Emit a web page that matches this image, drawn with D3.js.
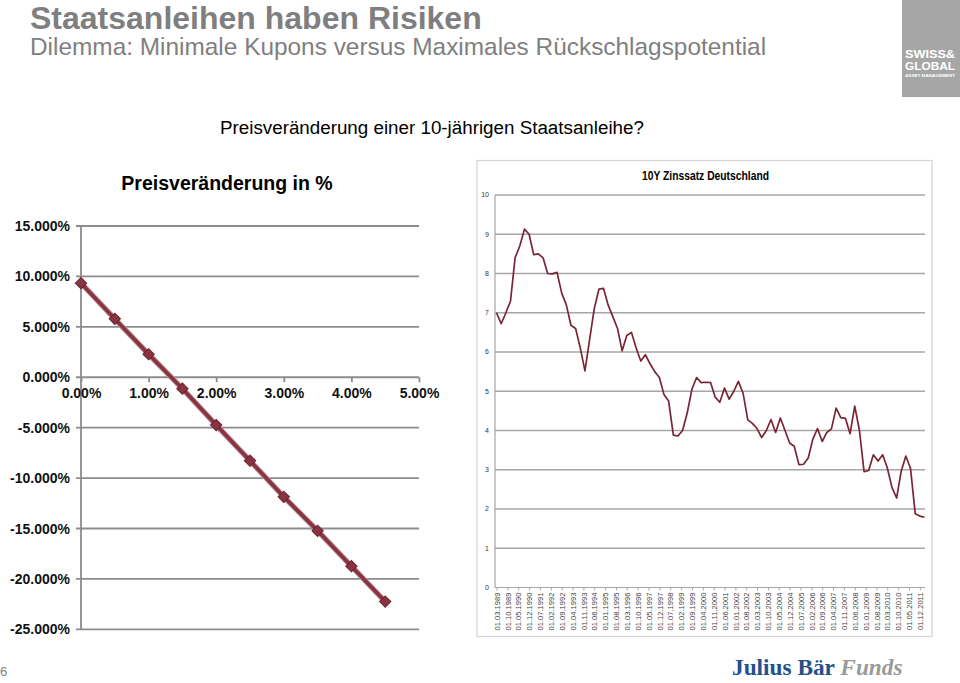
<!DOCTYPE html>
<html><head><meta charset="utf-8">
<script src="https://cdn.jsdelivr.net/npm/d3@7"></script>
<style>
html,body{margin:0;padding:0;background:#fff;}
svg{display:block;}
</style></head>
<body>
<svg id="c" width="960" height="683"></svg>
<script>
// ---------- Left chart data ----------
const yieldLevels = [0, 0.5, 1, 1.5, 2, 2.5, 3, 3.5, 4, 4.5];          // x: Zinsniveau in %
const priceChange = [9.33, 5.79, 2.28, -1.13, -4.74, -8.28, -11.86, -15.23, -18.74, -22.25]; // y: %
const leftYTicks = [15, 10, 5, 0, -5, -10, -15, -20, -25];
const leftXTicks = [0, 1, 2, 3, 4, 5];

// ---------- Right chart data (quarterly from 01.03.1989) ----------
const rateStart = "01.03.1989";
const rate10y = [
  7.00, 6.72, 7.00, 7.30, 8.40, 8.70, 9.13, 9.00, 8.48, 8.50,
  8.40, 8.00, 7.99, 8.03, 7.50, 7.20, 6.68, 6.60, 6.10, 5.52,
  6.30, 7.10, 7.60, 7.62, 7.20, 6.90, 6.60, 6.03, 6.42, 6.50,
  6.10, 5.77, 5.93, 5.70, 5.50, 5.35, 4.92, 4.75, 3.88, 3.86,
  4.00, 4.45, 5.05, 5.35, 5.22, 5.23, 5.22, 4.85, 4.72, 5.08,
  4.80, 5.00, 5.25, 4.95, 4.27, 4.18, 4.05, 3.82, 4.00, 4.28,
  3.95, 4.32, 4.00, 3.68, 3.60, 3.13, 3.14, 3.30, 3.78, 4.05,
  3.72, 3.95, 4.04, 4.57, 4.33, 4.31, 3.92, 4.62, 4.00, 2.95,
  2.98, 3.38, 3.22, 3.38, 3.05, 2.55, 2.28, 2.97, 3.35, 3.03,
  1.88, 1.82, 1.79
];
const dateLabels = [
  "01.03.1989","01.10.1989","01.05.1990","01.12.1990","01.07.1991","01.02.1992","01.09.1992","01.04.1993",
  "01.11.1993","01.06.1994","01.01.1995","01.08.1995","01.03.1996","01.10.1996","01.05.1997","01.12.1997",
  "01.07.1998","01.02.1999","01.09.1999","01.04.2000","01.11.2000","01.06.2001","01.01.2002","01.08.2002",
  "01.03.2003","01.10.2003","01.05.2004","01.12.2004","01.07.2005","01.02.2006","01.09.2006","01.04.2007",
  "01.11.2007","01.06.2008","01.01.2009","01.08.2009","01.03.2010","01.10.2010","01.05.2011","01.12.2011"
];
const rightYTicks = [0,1,2,3,4,5,6,7,8,9,10];

const svg = d3.select("#c");
const parse = d3.utcParse("%d.%m.%Y");

// ---------- Header ----------
svg.append("text").attr("x", 30).attr("y", 29)
  .attr("font-family", "Liberation Sans, Arial, sans-serif").attr("font-weight", "bold")
  .attr("font-size", 32).attr("fill", "#7f7f7f").text("Staatsanleihen haben Risiken");
svg.append("text").attr("x", 30).attr("y", 55)
  .attr("font-family", "Liberation Sans, Arial, sans-serif")
  .attr("font-size", 24.4).attr("fill", "#7f7f7f")
  .text("Dilemma: Minimale Kupons versus Maximales Rückschlagspotential");
svg.append("text").attr("x", 220).attr("y", 134)
  .attr("font-family", "Liberation Sans, Arial, sans-serif")
  .attr("font-size", 18.8).attr("fill", "#000")
  .text("Preisveränderung einer 10-jährigen Staatsanleihe?");

// Logo box
svg.append("rect").attr("x", 902).attr("y", 0).attr("width", 58).attr("height", 97).attr("fill", "#a6a6a6");
const lg = svg.append("g").attr("font-family", "Liberation Sans, Arial, sans-serif")
  .attr("font-weight", "bold").attr("fill", "#fff");
lg.append("text").attr("x", 905).attr("y", 58).attr("font-size", 11).attr("textLength", 50).attr("lengthAdjust", "spacingAndGlyphs").text("SWISS&");
lg.append("text").attr("x", 905).attr("y", 70).attr("font-size", 11).attr("textLength", 50).attr("lengthAdjust", "spacingAndGlyphs").text("GLOBAL");
lg.append("text").attr("x", 905).attr("y", 77).attr("font-size", 4).attr("textLength", 50).attr("lengthAdjust", "spacingAndGlyphs").text("ASSET MANAGEMENT");

// Footer
svg.append("text").attr("x", 0).attr("y", 676).attr("font-family", "Liberation Sans, Arial, sans-serif")
  .attr("font-size", 13).attr("fill", "#7f7f7f").text("6");
const jb = svg.append("text").attr("x", 732).attr("y", 675)
  .attr("font-family", "Liberation Serif, Times New Roman, serif").attr("font-weight", "bold").attr("font-size", 23.3);
jb.append("tspan").attr("fill", "#25508c").text("Julius Bär ");
jb.append("tspan").attr("fill", "#9a9a9a").attr("font-style", "italic").text("Funds");

// ---------- Left chart ----------
const L = svg.append("g");
const lx = d3.scaleLinear().domain([0, 5]).range([81, 419]);
const ly = d3.scaleLinear().domain([-25, 15]).range([629.3, 226]);
const lfont = "Liberation Sans, Arial, sans-serif";
const pct3 = d => d3.format(".3f")(d).replace("\u2212", "-") + "%";

L.append("text").attr("x", 227).attr("y", 190).attr("text-anchor", "middle")
  .attr("font-family", lfont).attr("font-weight", "bold").attr("font-size", 19.5).attr("fill", "#000")
  .text("Preisveränderung in %");

// gridlines
L.selectAll("line.g").data(leftYTicks.filter(d => d !== 0)).join("line")
  .attr("x1", 76).attr("x2", 419).attr("y1", d => ly(d)).attr("y2", d => ly(d))
  .attr("stroke", "#8c8c8c").attr("stroke-width", 1.8);
// y axis labels
L.selectAll("text.yl").data(leftYTicks).join("text")
  .attr("x", 70).attr("y", d => ly(d)).attr("dy", "0.36em").attr("text-anchor", "end")
  .attr("font-family", lfont).attr("font-weight", "bold").attr("font-size", 14).attr("fill", "#111")
  .text(pct3);
// y axis line
L.append("line").attr("x1", 81).attr("x2", 81).attr("y1", ly(15)).attr("y2", ly(-25))
  .attr("stroke", "#8c8c8c").attr("stroke-width", 1.8);
// x axis at 0
const xAxisL = L.append("g").attr("transform", `translate(0,${ly(0)})`)
  .call(d3.axisBottom(lx).tickValues(leftXTicks).tickSize(5).tickSizeOuter(0).tickFormat(d => d3.format(".2f")(d) + "%"));
xAxisL.select(".domain").attr("stroke", "#8c8c8c").attr("stroke-width", 1.8).attr("d", `M76,0H419`);
xAxisL.selectAll(".tick line").attr("stroke", "#8c8c8c").attr("stroke-width", 1.8);
xAxisL.selectAll(".tick text").attr("font-family", lfont).attr("font-weight", "bold").attr("font-size", 14)
  .attr("fill", "#111").attr("y", 11).attr("dy", "0.71em");

// series
const lpts = yieldLevels.map((x, i) => [x, priceChange[i]]);
const lline = d3.line().x(d => lx(d[0])).y(d => ly(d[1]));
L.append("path").attr("d", lline(lpts)).attr("fill", "none").attr("stroke", "#b58a90").attr("stroke-width", 5.5);
L.append("path").attr("d", lline(lpts)).attr("fill", "none").attr("stroke", "#893241").attr("stroke-width", 3.5);
L.selectAll("path.m").data(lpts).join("path")
  .attr("transform", d => `translate(${lx(d[0])},${ly(d[1])}) rotate(45)`)
  .attr("d", d3.symbol(d3.symbolSquare, 64)())
  .attr("fill", "#8a3443").attr("stroke", "#6e2230").attr("stroke-width", 1);

// ---------- Right chart ----------
const R = svg.append("g");
R.append("rect").attr("x", 477).attr("y", 160.5).attr("width", 455).attr("height", 476)
  .attr("fill", "#fff").attr("stroke", "#d4d4d4").attr("stroke-width", 1.2);
R.append("text").attr("x", 642).attr("y", 180)
  .attr("font-family", "Liberation Sans, Arial, sans-serif")
  .attr("font-weight", "bold").attr("font-size", 12.5).attr("fill", "#000")
  .attr("textLength", 127).attr("lengthAdjust", "spacingAndGlyphs").text("10Y Zinssatz Deutschland");

const t0 = parse(rateStart);
const rdates = rate10y.map((_, i) => d3.utcMonth.offset(t0, 3 * i));
const rx = d3.scaleUtc().domain([t0, rdates[rdates.length - 1]]).range([496.5, 924.5]);
const ry = d3.scaleLinear().domain([0, 10]).range([587.5, 195]);

R.selectAll("line.g").data(rightYTicks.filter(d => d > 0)).join("line")
  .attr("x1", 495).attr("x2", 925).attr("y1", d => ry(d)).attr("y2", d => ry(d))
  .attr("stroke", "#a6a6a6").attr("stroke-width", 1.3);
R.selectAll("text.yl").data(rightYTicks).join("text")
  .attr("x", 489).attr("y", d => ry(d)).attr("dy", "0.35em").attr("text-anchor", "end")
  .attr("font-family", "Liberation Sans, Arial, sans-serif").attr("font-size", 7).attr("fill", "#333")
  .text(d => d);
R.append("line").attr("x1", 495).attr("x2", 495).attr("y1", ry(10)).attr("y2", ry(0))
  .attr("stroke", "#a6a6a6").attr("stroke-width", 1.2);

const xAxisR = R.append("g").attr("transform", `translate(0,${ry(0)})`)
  .call(d3.axisBottom(rx).tickValues(dateLabels.map(parse)).tickSize(3).tickSizeOuter(0)
    .tickFormat(d => d3.utcFormat("%d.%m.%Y")(d)));
xAxisR.select(".domain").attr("stroke", "#a6a6a6").attr("stroke-width", 1.2).attr("d", "M495,0H925");
xAxisR.selectAll(".tick line").attr("stroke", "#a6a6a6");
xAxisR.selectAll(".tick text")
  .attr("font-family", "Liberation Sans, Arial, sans-serif").attr("font-size", 7.6).attr("fill", "#444")
  .attr("text-anchor", "end").attr("x", -5).attr("y", 0).attr("dy", "0.35em")
  .attr("transform", "rotate(-90)");

const rline = d3.line().x((d, i) => rx(rdates[i])).y(d => ry(d));
R.append("path").attr("d", rline(rate10y)).attr("fill", "none")
  .attr("stroke", "#7a2535").attr("stroke-width", 1.7).attr("stroke-linejoin", "round");
</script>
</body></html>
